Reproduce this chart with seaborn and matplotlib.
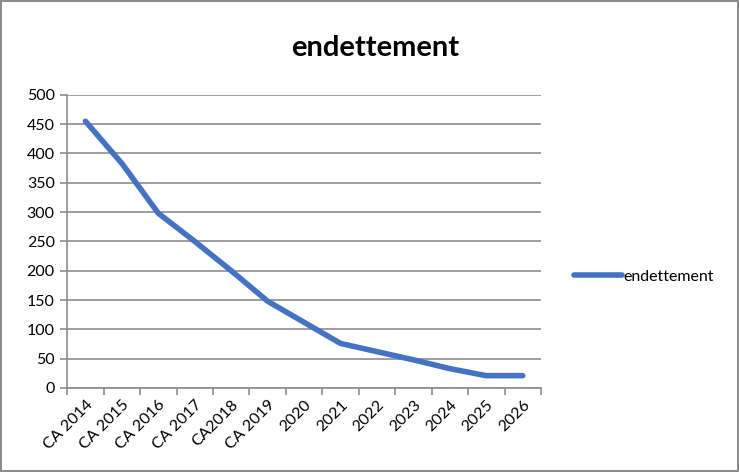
import numpy as np
import pandas as pd
import seaborn as sns
import matplotlib.pyplot as plt

annees = ["CA 2014", "CA 2015", "CA 2016", "CA 2017", "CA2018", "CA 2019",
          "2020", "2021", "2022", "2023", "2024", "2025", "2026"]
endettement = [455, 383, 298, 250, 200, 148, 112, 76, 62, 48, 33, 21, 21]

df = pd.DataFrame({"pos": range(len(annees)), "endettement": endettement})

sns.set_style("white")
plt.rcParams["font.family"] = ["Lato", "DejaVu Sans"]
plt.rcParams["text.color"] = "black"
plt.rcParams["xtick.color"] = "black"
plt.rcParams["ytick.color"] = "black"

fig = plt.figure(figsize=(7.39, 4.72), dpi=100)
fig.patch.set_edgecolor("#8c8c8c")
fig.patch.set_linewidth(1.5)
ax = fig.add_axes([0.091, 0.178, 0.641, 0.621])

sns.lineplot(data=df, x="pos", y="endettement", ax=ax, color="#4472C4",
             linewidth=4, solid_capstyle="round", label="endettement")

ax.set_xlim(-0.5, len(annees) - 0.5)
ax.set_ylim(0, 500)
ax.set_yticks(range(0, 501, 50))
ax.set_xticks(range(len(annees)))
ax.set_xticklabels(annees, rotation=45, ha="right", rotation_mode="anchor", fontsize=11.5)
ax.set_xticks(np.arange(-0.5, len(annees), 1), minor=True)
ax.tick_params(axis="x", which="major", bottom=True, length=0, pad=7)
ax.tick_params(axis="x", which="minor", bottom=True, length=5, color="#8c8c8c", width=1.2)
ax.tick_params(axis="y", left=True, length=5, color="#8c8c8c", width=1.2, labelsize=11.5, pad=4)
ax.set_xlabel("")
ax.set_ylabel("")
ax.grid(axis="y", color="#8c8c8c", linewidth=1.2)
ax.set_axisbelow(True)
for side in ["top", "right"]:
    ax.spines[side].set_visible(False)
for side in ["left", "bottom"]:
    ax.spines[side].set_color("#8c8c8c")
    ax.spines[side].set_linewidth(1.2)

fig.suptitle("endettement", x=0.507, y=0.925, fontsize=21, fontweight="bold")
ax.legend(loc="center left", bbox_to_anchor=(1.04, 0.38), frameon=False,
          fontsize=11.5, handlelength=3, handletextpad=0.1)

fig.savefig("out.png", dpi=100, edgecolor=fig.get_edgecolor())
